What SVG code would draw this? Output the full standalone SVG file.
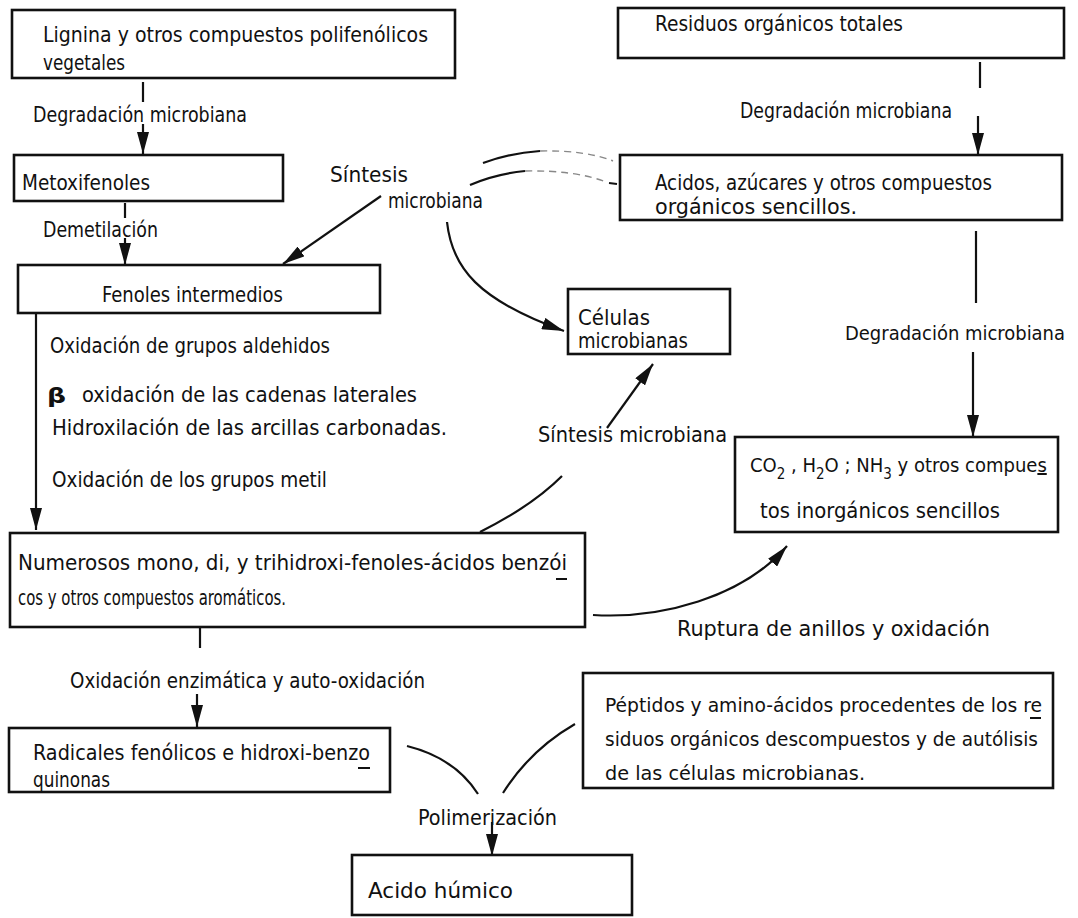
<svg xmlns="http://www.w3.org/2000/svg" width="1078" height="918" viewBox="0 0 1078 918">
  <defs>
    <style>
      .box { fill: none; stroke: #111; stroke-width: 2.6; }
      .t { font-family: "Liberation Sans Narrow", "DejaVu Sans Condensed", "Liberation Sans", sans-serif; font-size: 21px; fill: #111; }
      .sm { font-size: 20px; }
      .ln { fill: none; stroke: #111; stroke-width: 2.2; }
      .arr { fill: none; stroke: #111; stroke-width: 2.2; marker-end: url(#ah); }
      .faint { fill: none; stroke: #888; stroke-width: 1.4; stroke-dasharray: 7 5; }
      .ul { stroke: #111; stroke-width: 2; }
    </style>
    <marker id="ah" markerUnits="userSpaceOnUse" markerWidth="24" markerHeight="12" refX="22" refY="6" orient="auto">
      <path d="M0,0 L22,6 L0,12 z" fill="#111"/>
    </marker>
  </defs>
  <rect width="1078" height="918" fill="#fff"/>

  <!-- connectors -->
  <g id="connectors">
    <!-- lignin to methoxyphenols -->
    <line class="ln" x1="143" y1="82" x2="143" y2="102"/>
    <line class="arr" x1="143" y1="124" x2="143" y2="154"/>
    <!-- methoxyphenols to intermediate phenols -->
    <line class="ln" x1="125" y1="203" x2="125" y2="218"/>
    <line class="arr" x1="125" y1="238" x2="125" y2="265"/>
    <!-- microbial synthesis to intermediate phenols -->
    <line class="arr" x1="381" y1="196" x2="283" y2="264"/>
    <!-- arcs coming from the simple organic compounds -->
    <path class="ln" d="M483,163 Q510,153 540,151"/>
    <path class="faint" d="M540,151 Q585,150 613,161"/>
    <path class="ln" d="M470,185 Q495,174 525,171"/>
    <path class="faint" d="M525,171 Q575,170 606,182"/>
    <line class="ln" x1="609" y1="183" x2="617" y2="184"/>
    <!-- microbial synthesis to microbial cells -->
    <path class="arr" d="M447,222 C452,268 478,300 564,331"/>
    <!-- total residues to simple organics -->
    <line class="ln" x1="980" y1="62" x2="980" y2="88"/>
    <line class="arr" x1="978" y1="116" x2="978" y2="155"/>
    <!-- simple organics to inorganic compounds -->
    <line class="ln" x1="976" y1="231" x2="976" y2="303"/>
    <line class="arr" x1="973" y1="352" x2="973" y2="437"/>
    <!-- long left arrow -->
    <line class="arr" x1="36" y1="314" x2="36" y2="530"/>
    <!-- polyhydroxy phenols to microbial cells -->
    <path class="ln" d="M480,532 Q532,506 562,476"/>
    <line class="arr" x1="607" y1="428" x2="653" y2="364"/>
    <!-- ring cleavage to inorganic compounds -->
    <path class="arr" d="M593,615 C660,619 742,598 787,546"/>
    <!-- polyhydroxy phenols to radicals -->
    <line class="ln" x1="200" y1="628" x2="200" y2="648"/>
    <line class="arr" x1="197" y1="694" x2="197" y2="727"/>
    <!-- polymerisation -->
    <path class="ln" d="M407,746 Q455,758 478,794"/>
    <path class="ln" d="M575,724 Q530,750 503,793"/>
    <line class="arr" x1="492" y1="822" x2="492" y2="856"/>
  </g>

  <!-- nodes -->
  <g id="lignina">
    <rect class="box" x="12" y="10" width="443" height="68"/>
    <text class="t" x="43" y="42" textLength="385" lengthAdjust="spacingAndGlyphs">Lignina y otros compuestos polifenólicos</text>
    <text class="t" x="43" y="70" textLength="82" lengthAdjust="spacingAndGlyphs">vegetales</text>
  </g>
  <text class="t" x="33" y="122" textLength="214" lengthAdjust="spacingAndGlyphs">Degradación microbiana</text>

  <g id="metoxifenoles">
    <rect class="box" x="14" y="155" width="269" height="46"/>
    <text class="t" x="22" y="190" textLength="128" lengthAdjust="spacingAndGlyphs">Metoxifenoles</text>
  </g>
  <text class="t" x="43" y="237" textLength="115" lengthAdjust="spacingAndGlyphs">Demetilación</text>

  <g id="fenoles">
    <rect class="box" x="18" y="265" width="362" height="48"/>
    <text class="t" x="102" y="302" textLength="181" lengthAdjust="spacingAndGlyphs">Fenoles intermedios</text>
  </g>

  <text class="t" x="330" y="182" textLength="78" lengthAdjust="spacingAndGlyphs">Síntesis</text>
  <text class="t" x="388" y="208" textLength="95" lengthAdjust="spacingAndGlyphs">microbiana</text>

  <g id="residuos">
    <rect class="box" x="618" y="8" width="446" height="50"/>
    <text class="t" x="655" y="31" textLength="248" lengthAdjust="spacingAndGlyphs">Residuos orgánicos totales</text>
  </g>
  <text class="t" x="740" y="118" textLength="212" lengthAdjust="spacingAndGlyphs">Degradación microbiana</text>

  <g id="acidos">
    <rect class="box" x="620" y="155" width="442" height="65"/>
    <text class="t" x="655" y="190" textLength="337" lengthAdjust="spacingAndGlyphs">Acidos, azúcares y otros compuestos</text>
    <text class="t" x="655" y="214" textLength="202" lengthAdjust="spacingAndGlyphs">orgánicos sencillos.</text>
  </g>

  <g id="celulas">
    <rect class="box" x="568" y="289" width="162" height="65"/>
    <text class="t" x="578" y="325" textLength="72" lengthAdjust="spacingAndGlyphs">Células</text>
    <text class="t" x="578" y="348" textLength="110" lengthAdjust="spacingAndGlyphs">microbianas</text>
  </g>
  <text class="t sm" x="845" y="340" textLength="220" lengthAdjust="spacingAndGlyphs">Degradación microbiana</text>

  <text class="t" x="50" y="353" textLength="280" lengthAdjust="spacingAndGlyphs">Oxidación de grupos aldehidos</text>
  <text class="t" x="47" y="403" font-size="32" font-weight="bold" textLength="19" lengthAdjust="spacingAndGlyphs">β</text>
  <text class="t" x="82" y="402" textLength="335" lengthAdjust="spacingAndGlyphs">oxidación de  las cadenas laterales</text>
  <text class="t" x="52" y="435" textLength="395" lengthAdjust="spacingAndGlyphs">Hidroxilación de las arcillas carbonadas.</text>
  <text class="t" x="52" y="487" textLength="275" lengthAdjust="spacingAndGlyphs">Oxidación de los grupos metil</text>

  <text class="t" x="538" y="442" textLength="189" lengthAdjust="spacingAndGlyphs">Síntesis microbiana</text>

  <g id="inorganicos">
    <rect class="box" x="735" y="437" width="323" height="95"/>
    <text class="t sm" x="750" y="472">CO<tspan dy="7" font-size="15">2</tspan><tspan dy="-7"> , H</tspan><tspan dy="7" font-size="15">2</tspan><tspan dy="-7">O ; NH</tspan><tspan dy="7" font-size="15">3</tspan><tspan dy="-7"> y otros compue</tspan><tspan style="text-decoration: underline">s</tspan></text>
    <text class="t" x="760" y="518" textLength="240" lengthAdjust="spacingAndGlyphs">tos inorgánicos sencillos</text>
  </g>

  <g id="numerosos">
    <rect class="box" x="10" y="533" width="575" height="94"/>
    <text class="t" x="18" y="570" textLength="549" lengthAdjust="spacingAndGlyphs">Numerosos mono, di, y trihidroxi-fenoles-ácidos benzói</text>
    <line class="ul" x1="556" y1="579" x2="567" y2="579"/>
    <text class="t" x="18" y="605" textLength="268" lengthAdjust="spacingAndGlyphs">cos y otros compuestos aromáticos.</text>
  </g>
  <text class="t" x="677" y="636" textLength="313" lengthAdjust="spacingAndGlyphs">Ruptura de anillos y oxidación</text>

  <text class="t" x="70" y="688" textLength="355" lengthAdjust="spacingAndGlyphs">Oxidación enzimática y auto-oxidación</text>

  <g id="radicales">
    <rect class="box" x="9" y="728" width="381" height="64"/>
    <text class="t" x="33" y="760" textLength="337" lengthAdjust="spacingAndGlyphs">Radicales fenólicos e hidroxi-benzo</text>
    <line class="ul" x1="358" y1="768" x2="370" y2="768"/>
    <text class="t" x="33" y="787" textLength="77" lengthAdjust="spacingAndGlyphs">quinonas</text>
  </g>

  <g id="peptidos">
    <rect class="box" x="583" y="673" width="470" height="115"/>
    <text class="t sm" x="605" y="712" textLength="437" lengthAdjust="spacingAndGlyphs">Péptidos y amino-ácidos procedentes de los re</text>
    <line class="ul" x1="1030" y1="718" x2="1041" y2="718"/>
    <text class="t sm" x="605" y="746" textLength="433" lengthAdjust="spacingAndGlyphs">siduos orgánicos descompuestos y de autólisis</text>
    <text class="t sm" x="605" y="780" textLength="260" lengthAdjust="spacingAndGlyphs">de las células microbianas.</text>
  </g>

  <text class="t" x="418" y="825" textLength="139" lengthAdjust="spacingAndGlyphs">Polimerización</text>

  <g id="acido-humico">
    <rect class="box" x="352" y="855" width="280" height="60"/>
    <text class="t" x="368" y="898" textLength="145" lengthAdjust="spacingAndGlyphs">Acido húmico</text>
  </g>
</svg>
